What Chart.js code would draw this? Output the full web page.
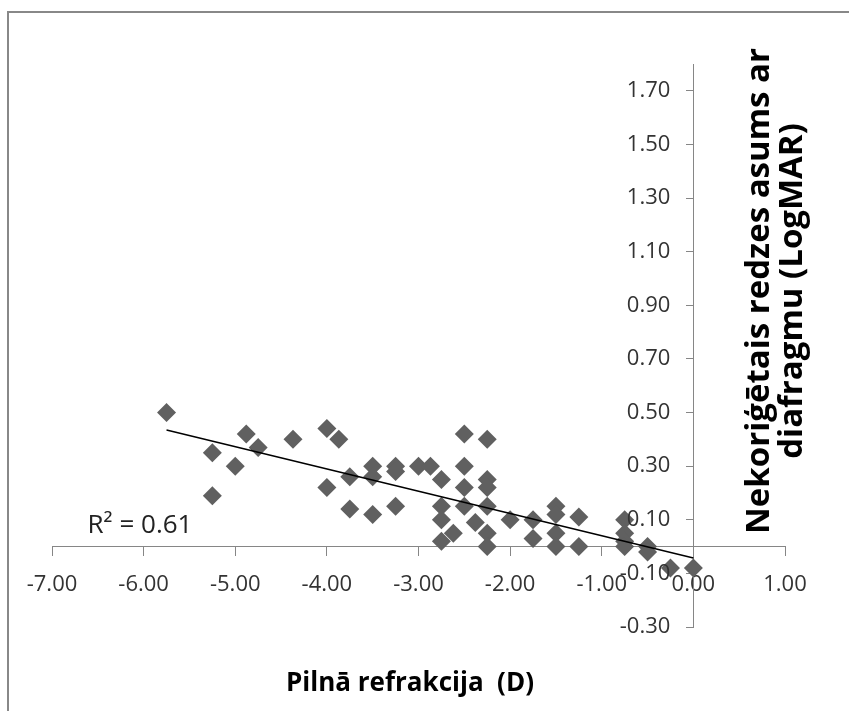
<!DOCTYPE html>
<html>
<head>
<meta charset="utf-8">
<script src="https://cdn.jsdelivr.net/npm/chart.js@4.4.0/dist/chart.umd.min.js"></script>
<style>
  html, body { margin: 0; padding: 0; background: #fff; }
  #wrap { position: relative; width: 849px; height: 711px; overflow: hidden; }
  #frame { position: absolute; left: 7px; top: 11px; width: 900px; height: 800px;
           border-left: 2px solid #888; border-top: 2px solid #888; }
  canvas { position: absolute; left: 0; top: 0; }
</style>
</head>
<body>
<div id="wrap">
  <div id="frame"></div>
  <canvas id="refractionChart" width="849" height="711"></canvas>
</div>
<script>
// data
const refraction = [
  -5.75, -5.25, -5.25, -5.0, -4.88, -4.75, -4.37, -4.0, -4.0, -3.87,
  -3.75, -3.75, -3.5, -3.5, -3.5, -3.25, -3.25, -3.25, -3.0, -2.87,
  -2.75, -2.75, -2.75, -2.75, -2.62, -2.5, -2.5, -2.5, -2.5, -2.38,
  -2.25, -2.25, -2.25, -2.25, -2.25, -2.25, -2.0, -1.75, -1.75, -1.5,
  -1.5, -1.5, -1.5, -1.25, -1.25, -0.75, -0.75, -0.75, -0.75, -0.5,
  -0.5, -0.25, 0.0
];
const logmar = [
  0.50, 0.35, 0.19, 0.30, 0.42, 0.37, 0.40, 0.44, 0.22, 0.40,
  0.26, 0.14, 0.30, 0.26, 0.12, 0.30, 0.28, 0.15, 0.30, 0.30,
  0.25, 0.15, 0.10, 0.02, 0.05, 0.42, 0.30, 0.22, 0.15, 0.09,
  0.40, 0.25, 0.22, 0.15, 0.05, 0.00, 0.10, 0.10, 0.03, 0.15,
  0.12, 0.05, 0.00, 0.11, 0.00, 0.10, 0.05, 0.02, 0.00, 0.00,
  -0.02, -0.08, -0.08
];
// trendline end points as drawn
const trendX = [-5.75, 0.0];
const trendY = [0.435, -0.043];

const yTicks = [-0.3, -0.1, 0.1, 0.3, 0.5, 0.7, 0.9, 1.1, 1.3, 1.5, 1.7];
const xTitle = "Pilnā refrakcija  (D)";
const yTitle = ["Nekoriģētais redzes asums ar", "diafragmu (LogMAR)"];
const rSquared = "R² = 0.61";

const axisColor = "#868686";
const labelColor = "#333";
const tickFont = { family: "'Open Sans'", size: 22 };
const fmt = (v) => Number(v).toFixed(2);

// y labels beside the crossing axis, axis titles and R² text
const chartTexts = {
  id: "chartTexts",
  afterDraw(chart) {
    const ctx = chart.ctx;
    const xs = chart.scales.x;
    const ys = chart.scales.y;
    ctx.save();

    ctx.fillStyle = labelColor;
    ctx.font = "22px 'Open Sans'";
    ctx.textAlign = "right";
    ctx.textBaseline = "middle";
    const labelRight = xs.getPixelForValue(0) - 7 - 16;
    ys.ticks.forEach((t) => {
      ctx.fillText(fmt(t.value), labelRight, ys.getPixelForValue(t.value));
    });

    ctx.fillStyle = "#000";
    ctx.textAlign = "center";
    ctx.font = "bold 26px 'Open Sans'";
    ctx.fillText(xTitle, 410, 684);

    ctx.save();
    ctx.translate(0, 291);
    ctx.rotate(-Math.PI / 2);
    ctx.textBaseline = "alphabetic";
    ctx.font = "bold 33px 'Open Sans'";
    ctx.fillText(yTitle[0], 0, 769);
    ctx.fillText(yTitle[1], 0, 802);
    ctx.restore();

    ctx.fillStyle = "#222";
    ctx.font = "26px 'Open Sans'";
    ctx.fillText(rSquared, 140, 526);
    ctx.restore();
  }
};

new Chart(document.getElementById("refractionChart"), {
  type: "scatter",
  data: {
    datasets: [
      {
        type: "line",
        label: "Trend",
        data: trendX.map((x, i) => ({ x: x, y: trendY[i] })),
        borderColor: "#000",
        borderWidth: 1.5,
        pointRadius: 0,
        order: 0,
      },
      {
        label: "Refrakcija",
        data: refraction.map((x, i) => ({ x: x, y: logmar[i] })),
        pointStyle: "rectRot",
        pointRadius: 9.5,
        pointHoverRadius: 9.5,
        backgroundColor: "#606060",
        borderWidth: 0,
        order: 1,
      },
    ],
  },
  options: {
    responsive: false,
    animation: false,
    layout: { padding: { left: 52, right: 64, top: 64, bottom: 84 } },
    plugins: { legend: { display: false }, tooltip: { enabled: false } },
    scales: {
      x: {
        type: "linear",
        position: { y: 0 },
        min: -7,
        max: 1,
        ticks: { stepSize: 1, font: tickFont, color: labelColor, padding: 16,
                 callback: fmt },
        grid: { drawOnChartArea: false, tickLength: 9, color: axisColor },
        border: { color: axisColor, width: 1 },
      },
      y: {
        type: "linear",
        position: { x: 0 },
        min: -0.3,
        max: 1.8,
        afterBuildTicks: (scale) => { scale.ticks = yTicks.map((v) => ({ value: v })); },
        ticks: { display: false, font: tickFont, callback: fmt },
        grid: { drawOnChartArea: false, tickLength: 7, color: axisColor },
        border: { color: axisColor, width: 1 },
      },
    },
  },
  plugins: [chartTexts],
});
</script>
</body>
</html>
